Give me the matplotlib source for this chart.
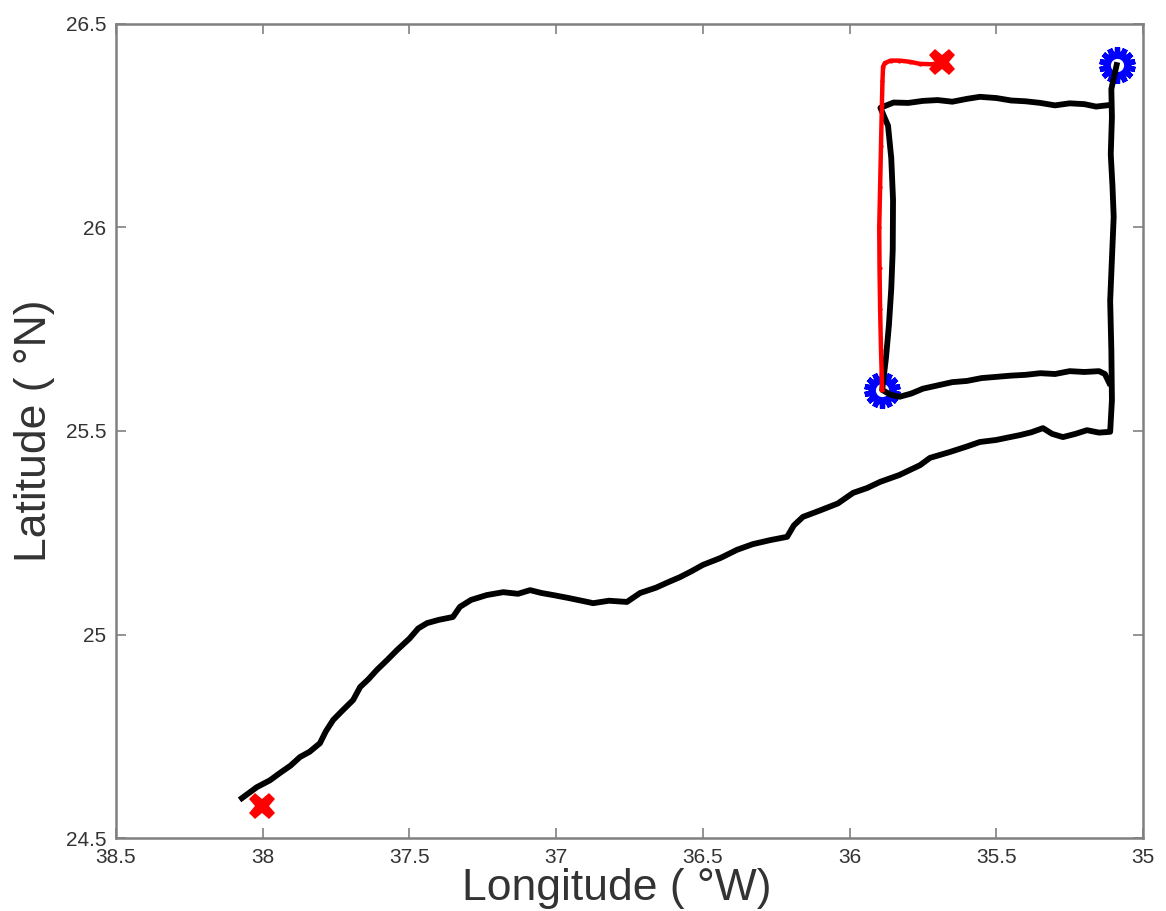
import numpy as np
import matplotlib.pyplot as plt
from matplotlib.ticker import FormatStrFormatter

# trayecto largo: desde el SW hasta la esquina NE
lon_1 = [38.071, 38.02, 37.975, 37.941, 37.905, 37.873, 37.84, 37.805, 37.785, 37.760,
         37.73, 37.692, 37.668, 37.64, 37.611, 37.575, 37.542, 37.50, 37.470, 37.440,
         37.40, 37.352, 37.328, 37.29, 37.236, 37.18, 37.13, 37.089, 37.05, 37.011,
         36.96, 36.92, 36.874, 36.82, 36.759, 36.714, 36.66, 36.62, 36.578, 36.54,
         36.500, 36.44, 36.384, 36.33, 36.27, 36.213, 36.190, 36.159, 36.10, 36.04,
         35.988, 35.94, 35.896, 35.83, 35.760, 35.726, 35.66, 35.60, 35.556, 35.50,
         35.46, 35.419, 35.38, 35.341, 35.31, 35.273, 35.23, 35.191, 35.15, 35.112,
         35.106, 35.108, 35.112, 35.105, 35.100, 35.104, 35.110, 35.106, 35.108, 35.090]
lat_1 = [24.598, 24.625, 24.642, 24.660, 24.678, 24.699, 24.712, 24.733, 24.762, 24.790,
         24.812, 24.839, 24.871, 24.890, 24.913, 24.938, 24.962, 24.990, 25.015, 25.028,
         25.036, 25.043, 25.068, 25.085, 25.097, 25.104, 25.100, 25.109, 25.102, 25.097,
         25.090, 25.084, 25.077, 25.083, 25.080, 25.102, 25.115, 25.128, 25.141, 25.155,
         25.171, 25.188, 25.208, 25.222, 25.232, 25.240, 25.268, 25.289, 25.305, 25.322,
         25.348, 25.360, 25.375, 25.392, 25.416, 25.434, 25.448, 25.462, 25.473, 25.478,
         25.484, 25.490, 25.497, 25.507, 25.493, 25.485, 25.493, 25.502, 25.496, 25.498,
         25.576, 25.700, 25.820, 25.940, 26.026, 26.100, 26.180, 26.271, 26.340, 26.399]

# recuadro: lado norte, lado oeste y lado sur
lon_2 = [35.112, 35.16, 35.20, 35.25, 35.30, 35.35, 35.40, 35.45, 35.50, 35.556,
         35.60, 35.65, 35.70, 35.75, 35.80, 35.85, 35.895,
         35.869, 35.858, 35.852, 35.853, 35.858, 35.866, 35.876, 35.889,
         35.86, 35.83, 35.79, 35.75, 35.70, 35.65, 35.60, 35.55, 35.50, 35.45,
         35.40, 35.35, 35.30, 35.25, 35.20, 35.15, 35.13, 35.115]
lat_2 = [26.301, 26.297, 26.303, 26.305, 26.300, 26.306, 26.310, 26.312, 26.318, 26.321,
         26.316, 26.309, 26.313, 26.311, 26.306, 26.307, 26.294,
         26.250, 26.170, 26.068, 25.945, 25.850, 25.760, 25.680, 25.601,
         25.589, 25.584, 25.592, 25.604, 25.612, 25.620, 25.623, 25.630, 25.633, 25.636,
         25.638, 25.642, 25.640, 25.647, 25.645, 25.647, 25.640, 25.618]

# trayecto rojo
lon_r = [35.889, 35.893, 35.896, 35.898, 35.899, 35.896, 35.893, 35.890, 35.888, 35.886,
         35.880, 35.860, 35.830, 35.794, 35.760, 35.720, 35.690]
lat_r = [25.601, 25.700, 25.800, 25.900, 26.000, 26.100, 26.200, 26.300, 26.360, 26.395,
         26.404, 26.410, 26.410, 26.407, 26.402, 26.401, 26.405]

# inicio (azul) y fin (rojo)
lon_ini = [35.889, 35.09]
lat_ini = [25.601, 26.399]
lon_fin = [38.002, 35.685]
lat_fin = [24.579, 26.407]

plt.rcParams['font.family'] = ['Liberation Sans', 'DejaVu Sans']
fig = plt.figure(figsize=(11.66, 9.11), dpi=100)
ax = fig.add_axes([0.0995, 0.0801, 0.8808, 0.8936])

gris = '#808080'

# marcadores azules
ax.plot(lon_ini, lat_ini, ls='none', marker=(14, 2, 0), ms=26, mec='blue', mew=3.8, zorder=2)
ax.plot(lon_ini, lat_ini, ls='none', marker='o', ms=15, mfc='white', mec='blue', mew=5.5, zorder=2)

ax.plot(lon_1, lat_1, color='black', lw=4.2, zorder=3)
ax.plot(lon_2, lat_2, color='black', lw=4.2, zorder=3)
ax.plot(lon_r, lat_r, color='red', lw=3.2, marker='.', ms=4, zorder=4)

ax.plot(lon_fin, lat_fin, ls='none', marker='X', ms=19, mfc='red', mec='red', mew=0, zorder=5)

ax.set_xlim(38.5, 35)
ax.set_ylim(24.5, 26.5)
ax.set_xticks(np.arange(38.5, 34.99, -0.5))
ax.set_yticks(np.arange(24.5, 26.51, 0.5))
ax.xaxis.set_major_formatter(FormatStrFormatter('%g'))
ax.yaxis.set_major_formatter(FormatStrFormatter('%g'))

for s in ax.spines.values():
    s.set_color(gris)
    s.set_linewidth(1.8)
ax.tick_params(direction='in', length=7, width=1.2, color=gris, labelcolor='#333333',
               labelsize=15, top=True, right=True, pad=7)

ax.set_xlabel('Longitude ( °W)', fontsize=32, color='#333333')
ax.set_ylabel('Latitude ( °N)', fontsize=32, color='#333333')
ax.xaxis.set_label_coords(0.488, -0.037)
ax.yaxis.set_label_coords(-0.059, 0.5)

plt.savefig('out.png')
